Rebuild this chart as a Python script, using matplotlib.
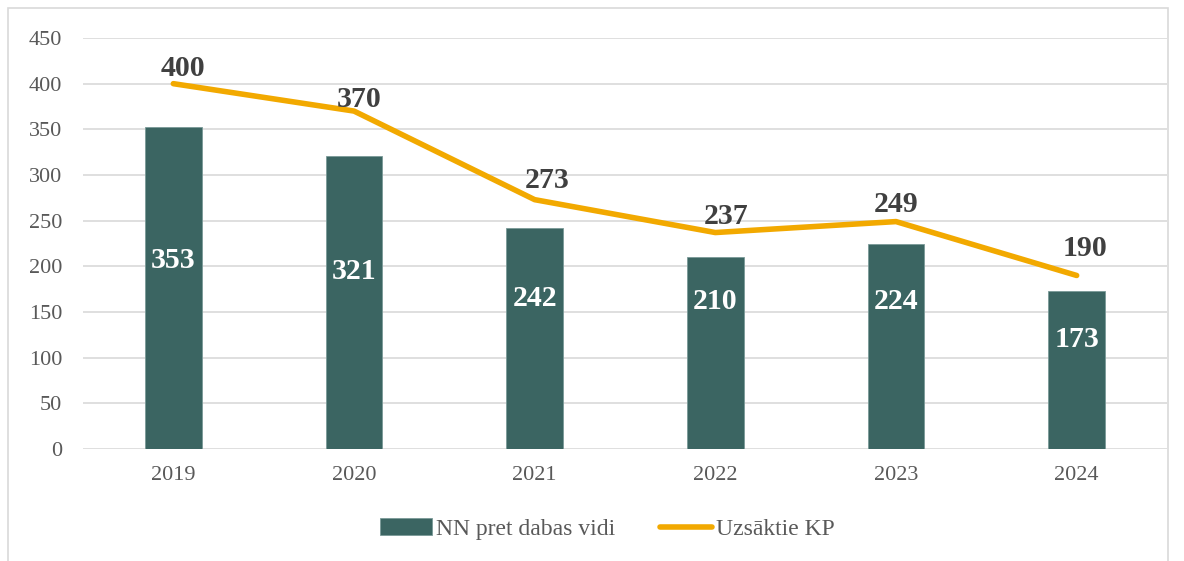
import matplotlib.pyplot as plt
from matplotlib.patches import Rectangle

years = ['2019', '2020', '2021', '2022', '2023', '2024']
nn_values = [353, 321, 242, 210, 224, 173]
kp_values = [400, 370, 273, 237, 249, 190]

# where the white labels sit inside the bars (data units, as in the original)
bar_label_y = [206, 194, 165, 161, 161, 120]
# offsets (pixels) of the line labels from the points
line_label_dx = [10, 5, 12, 11, 0, 8]
line_label_dy = [15, 12, 19, 16, 17, 27]

plt.rcParams['font.family'] = ['Liberation Serif', 'DejaVu Serif']

fig = plt.figure(figsize=(11.84, 5.61), dpi=100)
ax = fig.add_axes([83 / 1184, 1 - 449 / 561, (1167 - 83) / 1184, (449 - 38) / 561])

# outer chart border
fig.patches.append(Rectangle((8 / 1184, -0.01), (1168 - 8) / 1184, 1 - 8 / 561 + 0.01,
                             transform=fig.transFigure, fill=False,
                             edgecolor='#d9d9d9', linewidth=1.2))

x = list(range(len(years)))
bar_color = '#3b6562'
line_color = '#f2a900'

bars = ax.bar(x, nn_values, width=0.315, color=bar_color, edgecolor='#7a9a98',
              linewidth=0.6, label='NN pret dabas vidi', zorder=2)
line, = ax.plot(x, kp_values, color=line_color, linewidth=4, solid_capstyle='round',
                label='Uzsāktie KP', zorder=3)

for i, v in enumerate(nn_values):
    ax.text(i, bar_label_y[i], str(v), ha='center', va='center', color='white',
            fontsize=21.5, fontweight='bold', zorder=4)

for i, v in enumerate(kp_values):
    ax.annotate(str(v), (i, v), xytext=(line_label_dx[i], line_label_dy[i]),
                textcoords='offset pixels', ha='center', va='center',
                color='#404040', fontsize=21.5, fontweight='bold', zorder=4)

ax.set_xlim(-0.5, 5.5)
ax.set_ylim(0, 450)
ax.set_yticks(range(0, 451, 50))
ax.set_xticks(x)
ax.set_xticklabels(years)
ax.yaxis.grid(True, color='#d9d9d9', linewidth=1.2, zorder=0)
ax.set_axisbelow(True)
for s in ax.spines.values():
    s.set_visible(False)
ax.tick_params(axis='both', length=0, labelsize=16, labelcolor='#595959')
ax.tick_params(axis='y', pad=15)
ax.tick_params(axis='x', pad=12)

leg = fig.legend([bars, line], ['NN pret dabas vidi', 'Uzsāktie KP'],
                 loc='center', bbox_to_anchor=(0.513, 1 - 529 / 561), ncol=2,
                 frameon=False, fontsize=17, handlelength=2.2, handletextpad=0.15,
                 columnspacing=1.9)
for t in leg.get_texts():
    t.set_color('#595959')

fig.savefig('out.png', dpi=100)
